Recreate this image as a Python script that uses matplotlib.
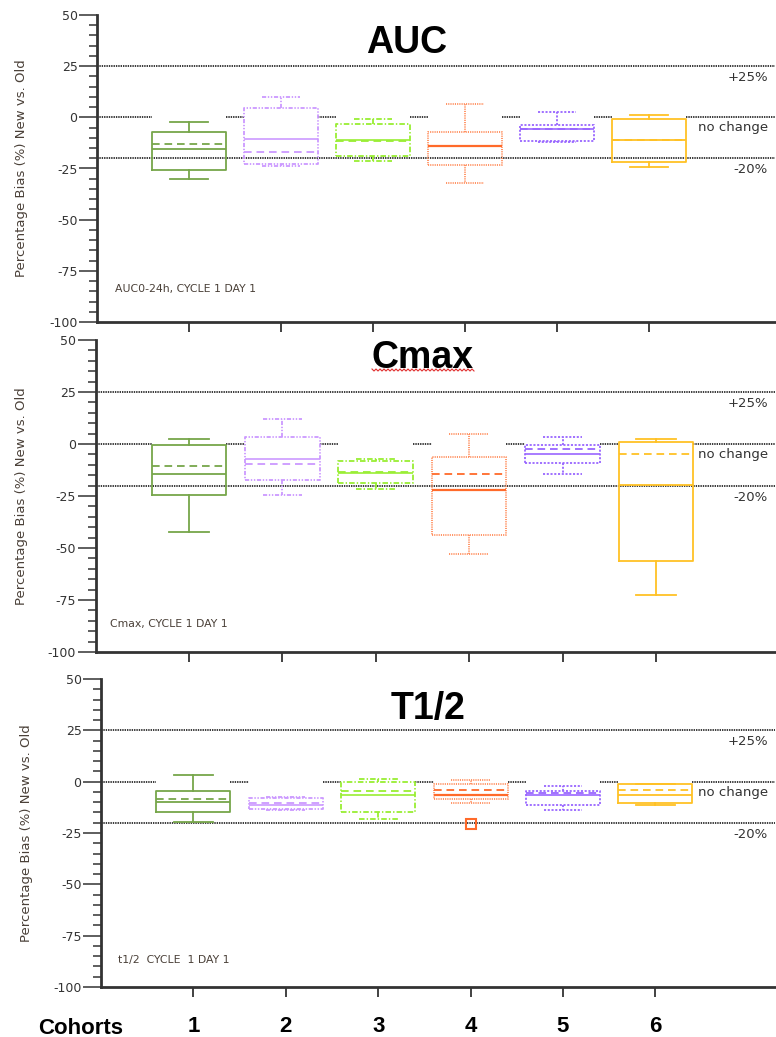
import numpy as np
import matplotlib
matplotlib.use("Agg")
import matplotlib.pyplot as plt
import matplotlib.transforms as mtransforms
from matplotlib.ticker import MultipleLocator, FixedLocator
from matplotlib.lines import Line2D

plt.rcParams['axes.unicode_minus'] = False
plt.rcParams['lines.scale_dashes'] = False
plt.rcParams['font.family'] = ['DejaVu Sans']

# ---------------- data ----------------
cohorts = [1, 2, 3, 4, 5, 6]
cohort_labels = ["1", "2", "3", "4", "5", "6"]
panel_titles = ["AUC", "Cmax", "T1/2"]
panel_notes = ["AUC0-24h, CYCLE 1 DAY 1", "Cmax, CYCLE 1 DAY 1", "t1/2  CYCLE  1 DAY 1"]
ref_labels = ["+25%", "no change", "-20%"]
ref_label_y = [19.7, -5.1, -25.7]

# AUC
auc_whislo = [-30.1, -23.6, -21.4, -32.3, -12.0, -24.4]
auc_q1     = [-25.7, -22.8, -18.7, -23.3, -11.8, -21.8]
auc_med    = [-15.5, -10.5, -11.1, -13.9, -5.9, -11.1]
auc_mean   = [-13.0, -16.8, -11.4, -13.9, -5.6, -10.9]
auc_q3     = [-7.3, 4.8, -3.4, -7.3, -3.7, -1.0]
auc_whishi = [-2.4, 9.7, -1.0, 6.7, 2.6, 1.1]
auc_fliers = [[], [], [], [], [], []]

# Cmax
cmax_whislo = [-42.1, -24.7, -21.6, -52.9, -14.4, -72.7]
cmax_q1     = [-24.7, -17.5, -18.7, -43.7, -9.1, -56.2]
cmax_med    = [-14.4, -7.0, -13.9, -22.3, -5.0, -19.9]
cmax_mean   = [-10.7, -9.6, -13.6, -14.6, -2.5, -5.0]
cmax_q3     = [-0.6, 3.4, -8.3, -6.2, -0.5, 1.0]
cmax_whishi = [2.3, 11.9, -7.0, 4.7, 3.4, 2.3]
cmax_fliers = [[], [], [], [], [], []]

# T1/2
t12_whislo = [-19.6, -13.8, -18.0, -10.2, -13.8, -11.5]
t12_q1     = [-14.9, -13.1, -14.6, -8.6, -11.5, -10.2]
t12_med    = [-9.7, -11.2, -6.6, -6.6, -6.6, -6.6]
t12_mean   = [-8.4, -10.5, -4.7, -4.2, -5.3, -4.2]
t12_q3     = [-4.4, -7.8, 0.0, -1.3, -4.5, -1.3]
t12_whishi = [3.1, -7.4, 1.2, 0.8, -2.1, -1.0]
t12_fliers = [[], [], [], [-20.7], [], []]

panel_data = [
    (auc_whislo, auc_q1, auc_med, auc_mean, auc_q3, auc_whishi, auc_fliers),
    (cmax_whislo, cmax_q1, cmax_med, cmax_mean, cmax_q3, cmax_whishi, cmax_fliers),
    (t12_whislo, t12_q1, t12_med, t12_mean, t12_q3, t12_whishi, t12_fliers),
]

# ---------------- styles ----------------
box_colors = ['#76a64a', '#cc99ff', '#99ee33', '#ff8c5a', '#9966ff', '#ffc125']
median_colors = ['#76a64a', '#cc99ff', '#99ee33', '#ff6a2a', '#9966ff', '#ffc125']
box_styles = ['-', (0, (3, 1.2, 1, 1.2, 1, 1.2)), (0, (4, 1.5, 1, 1.5)),
              (0, (0.8, 0.8)), (0, (1.5, 1.2)), '-']
median_lw = [1.3, 1.2, 1.2, 1.6, 1.2, 1.3]
mean_dash = (0, (5.5, 3.5))
ref_color = '#2a2a2a'
ref_style = (0, (1.0, 0.7))
text_color = '#333333'
label_color = '#4a4038'

W, H = 776, 1037
fig = plt.figure(figsize=(W / 100, H / 100), dpi=100)

# layout (pixel geometry of each panel)
layouts = [
    dict(left=97, top=15, bottom=322, unit=92.0,
         title_xy=(2.93, 31.3), note_xy=(0.2, -84.0), ylab_x=28),
    dict(left=95.5, top=340, bottom=652, unit=93.4,
         title_xy=(2.96, 36.3), note_xy=(0.15, -86.5), ylab_x=28),
    dict(left=101, top=679, bottom=987, unit=92.4,
         title_xy=(3.13, 30.4), note_xy=(0.18, -87.0), ylab_x=33),
]
right_px = 775

axes = []
for k, (lay, data) in enumerate(zip(layouts, panel_data)):
    wpx = right_px - lay['left']
    hpx = lay['bottom'] - lay['top']
    ax = fig.add_axes([lay['left'] / W, 1 - lay['bottom'] / H, wpx / W, hpx / H])
    axes.append(ax)
    xmax = wpx / lay['unit']
    ax.set_xlim(0, xmax)
    ax.set_ylim(-100, 50)

    # spines
    for s in ['top', 'right']:
        ax.spines[s].set_visible(False)
    for s in ['left', 'bottom']:
        ax.spines[s].set_color('#333333')
        ax.spines[s].set_linewidth(2.0)

    ax.yaxis.set_major_locator(MultipleLocator(25))
    ax.yaxis.set_minor_locator(MultipleLocator(5))
    ax.xaxis.set_major_locator(FixedLocator(cohorts))
    ax.tick_params(axis='y', which='major', direction='out', length=13, width=1.1,
                   color='#333333', labelsize=9, labelcolor=text_color, pad=1)
    ax.tick_params(axis='y', which='minor', direction='out', length=6, width=1.1,
                   color='#333333')
    ax.tick_params(axis='x', which='major', direction='out', length=7, width=1.3,
                   color='#333333')

    ax.set_ylabel("Percentage Bias (%) New vs. Old", fontsize=9.5, color=label_color)
    ax.yaxis.set_label_coords((lay['ylab_x'] - lay['left']) / wpx, 0.5)

    # reference lines
    ax.axhline(25, color=ref_color, ls=ref_style, lw=1.3, zorder=1)
    ax.axhline(-20, color=ref_color, ls=ref_style, lw=1.3, zorder=1)
    seg_start = [0] + [c + 0.4 for c in cohorts]
    seg_end = [c - 0.4 for c in cohorts] + [xmax]
    ax.hlines([0] * len(seg_start), seg_start, seg_end, color=ref_color,
              linestyles=[ref_style], lw=1.3, zorder=1)

    whislo, q1, med, mean, q3, whishi, fliers = data
    for i, c in enumerate(cohorts):
        stats = [dict(whislo=whislo[i], q1=q1[i], med=med[i], mean=mean[i],
                      q3=q3[i], whishi=whishi[i], fliers=fliers[i])]
        col = box_colors[i]
        ls = box_styles[i]
        ax.bxp(stats, positions=[c], widths=0.8, capwidths=0.42,
               showmeans=True, meanline=True, showfliers=True, manage_ticks=False,
               boxprops=dict(color=col, linestyle=ls, linewidth=1.3),
               whiskerprops=dict(color=col, linestyle=ls, linewidth=1.3),
               capprops=dict(color=col, linestyle=ls, linewidth=1.3),
               medianprops=dict(color=median_colors[i], linestyle='-', linewidth=median_lw[i]),
               meanprops=dict(color=median_colors[i], linestyle=mean_dash, linewidth=1.3),
               flierprops=dict(marker='s', markerfacecolor='none',
                               markeredgecolor=median_colors[i], markersize=7,
                               markeredgewidth=1.5))

    # right-side labels
    trans = mtransforms.blended_transform_factory(fig.transFigure, ax.transData)
    for lab, yv in zip(ref_labels, ref_label_y):
        ax.text(768 / W, yv, lab, transform=trans, ha='right', va='center',
                fontsize=9.5, color=text_color)

    # title and note
    ax.text(lay['title_xy'][0], lay['title_xy'][1], panel_titles[k], ha='left',
            va='baseline', fontsize=27, fontweight='bold', family='Liberation Sans',
            color='black')
    ax.text(lay['note_xy'][0], lay['note_xy'][1], panel_notes[k], ha='left',
            va='center', fontsize=7.8, color=label_color)

    if k < 2:
        ax.set_xticklabels([])
    else:
        ax.set_xticklabels(cohort_labels, fontsize=16, fontweight='bold',
                           family='Liberation Sans', color='black')
        ax.tick_params(axis='x', pad=14)
        ax.set_xlabel("Cohorts", fontsize=16, fontweight='bold',
                      family='Liberation Sans', color='black')
        ax.xaxis.set_label_coords((81 - lay['left']) / wpx, -(1018 - lay['bottom']) / hpx)
        ax.xaxis.label.set_va('top')

# spell-check style squiggle under "Cmax"
sx = np.arange(372, 476, 2.0)
sy = 370 + np.where(np.arange(len(sx)) % 2 == 0, -1.0, 1.0)
fig.add_artist(Line2D(sx / W, 1 - sy / H, transform=fig.transFigure,
                      color='#e03030', lw=0.8))

fig.savefig("out.png", dpi=100)
